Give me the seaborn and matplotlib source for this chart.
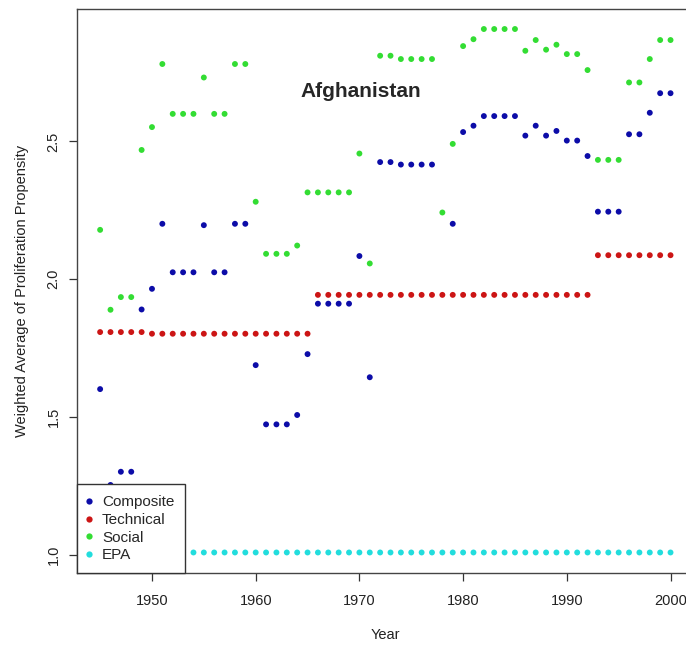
import numpy as np
import pandas as pd
import matplotlib
matplotlib.use("Agg")
import matplotlib.pyplot as plt
from matplotlib.lines import Line2D
import seaborn as sns

years = list(range(1945, 2001))

composite = [1.601, 1.253, 1.301, 1.301, 1.890, 1.965, 2.201, 2.025, 2.025, 2.025,
             2.196, 2.025, 2.025, 2.201, 2.201, 1.688, 1.473, 1.473, 1.473, 1.507,
             1.728, 1.911, 1.911, 1.911, 1.911, 2.084, 1.644, 2.425, 2.425, 2.416,
             2.416, 2.416, 2.416, np.nan, 2.201, 2.534, 2.557, 2.592, 2.592, 2.592,
             2.592, 2.521, 2.557, 2.521, 2.538, 2.503, 2.503, 2.447, 2.245, 2.245,
             2.245, 2.526, 2.526, 2.604, 2.675, 2.675]

technical = [1.808, 1.808, 1.808, 1.808, 1.808, 1.802, 1.802, 1.802, 1.802, 1.802,
             1.802, 1.802, 1.802, 1.802, 1.802, 1.802, 1.802, 1.802, 1.802, 1.802,
             1.802, 1.943, 1.943, 1.943, 1.943, 1.943, 1.943, 1.943, 1.943, 1.943,
             1.943, 1.943, 1.943, 1.943, 1.943, 1.943, 1.943, 1.943, 1.943, 1.943,
             1.943, 1.943, 1.943, 1.943, 1.943, 1.943, 1.943, 1.943, 2.087, 2.087,
             2.087, 2.087, 2.087, 2.087, 2.087, 2.087]

social = [2.179, 1.889, 1.935, 1.935, 2.469, 2.552, 2.781, 2.600, 2.600, 2.600,
          2.732, 2.600, 2.600, 2.781, 2.781, 2.281, 2.092, 2.092, 2.092, 2.122,
          2.315, 2.315, 2.315, 2.315, 2.315, 2.456, 2.057, 2.811, 2.811, 2.799,
          2.799, 2.799, 2.799, 2.242, 2.491, 2.846, 2.871, 2.908, 2.908, 2.908,
          2.908, 2.829, 2.868, 2.833, 2.851, 2.817, 2.817, 2.759, 2.433, 2.433,
          2.433, 2.714, 2.714, 2.799, 2.868, 2.868]

epa = [1.008, 1.008, 1.008, 1.008, 1.008, 1.008, 1.008, 1.008, 1.008, 1.008,
       1.008, 1.008, 1.008, 1.008, 1.008, 1.008, 1.008, 1.008, 1.008, 1.008,
       1.008, 1.008, 1.008, 1.008, 1.008, 1.008, 1.008, 1.008, 1.008, 1.008,
       1.008, 1.008, 1.008, 1.008, 1.008, 1.008, 1.008, 1.008, 1.008, 1.008,
       1.008, 1.008, 1.008, 1.008, 1.008, 1.008, 1.008, 1.008, 1.008, 1.008,
       1.008, 1.008, 1.008, 1.008, 1.008, 1.008]

series_names = ["Composite", "Technical", "Social", "EPA"]
colors = {"Composite": "#0c0ca8", "Technical": "#cc1515",
          "Social": "#33dd33", "EPA": "#22dddd"}

df = pd.concat([
    pd.DataFrame({"Year": years, "Value": vals, "Series": name})
    for name, vals in zip(series_names, [composite, technical, social, epa])
]).dropna()

sns.set_style("ticks")
plt.rcParams["font.family"] = ["Liberation Sans", "DejaVu Sans"]

fig = plt.figure(figsize=(6.86, 6.45), dpi=100)
ax = fig.add_axes([0.1127, 0.1112, 0.898, 0.875])

sns.scatterplot(data=df, x="Year", y="Value", hue="Series", hue_order=series_names,
                palette=colors, s=18, linewidth=0, legend=False, ax=ax)

ax.set_xlim(1942.8, 2002.2)
ax.set_ylim(0.9325, 2.981)
ax.set_xticks([1950, 1960, 1970, 1980, 1990, 2000])
ax.set_yticks([1.0, 1.5, 2.0, 2.5])
ax.set_yticklabels(["1.0", "1.5", "2.0", "2.5"], rotation=90, va="center")
ax.tick_params(axis="both", labelsize=10.5, length=6, width=0.9,
               color="#333333", labelcolor="#222222")
ax.tick_params(axis="x", pad=9)
ax.tick_params(axis="y", pad=6)
for sp in ax.spines.values():
    sp.set_color("#444444")
    sp.set_linewidth(1.0)

ax.set_xlabel("Year", fontsize=10.5, color="#222222", labelpad=14)
ax.set_ylabel("Weighted Average of Proliferation Propensity", fontsize=10.5,
              color="#222222", labelpad=13)

ax.text(0.4604, 0.8535, "Afghanistan", transform=ax.transAxes, ha="center",
        va="center", fontsize=15, fontweight="bold")

handles = [Line2D([], [], marker="o", linestyle="", markersize=4.5,
                  markerfacecolor=colors[n], markeredgewidth=0) for n in series_names]
leg = ax.legend(handles, series_names, loc="lower left", borderaxespad=0,
                fontsize=11, frameon=True, fancybox=False, framealpha=1,
                edgecolor="#333333", labelspacing=0.24, handletextpad=0.8,
                handlelength=0.1, borderpad=0.72)
leg.get_frame().set_linewidth(1.0)
leg.set_zorder(10)

fig.savefig("out.png", dpi=100)
